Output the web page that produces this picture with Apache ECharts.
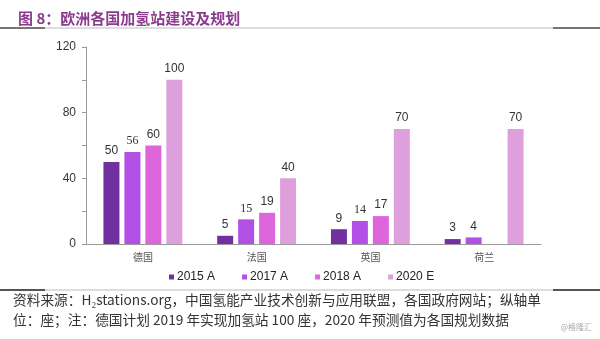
<!DOCTYPE html>
<html><head><meta charset="utf-8">
<script src="https://cdn.jsdelivr.net/npm/echarts@6/dist/echarts.min.js"></script>
<style>html,body{margin:0;padding:0;background:#fff}#c{width:600px;height:339px}</style>
</head><body><div id="c"></div>
<script>
const categories = ['德国', '法国', '英国', '荷兰'];
const seriesNames = ['2015 A', '2017 A', '2018 A', '2020 E'];
const v2015 = [50, 5, 9, 3];
const v2017 = [56, 15, 14, 4];
const v2018 = [60, 19, 17, null];
const v2020 = [100, 40, 70, 70];
const yTicks = [0, 40, 80, 120];

const colors = ['#7030A0', '#B24FE4', '#DD66DD', '#DDA0DD'];
const values = [v2015, v2017, v2018, v2020];
const serifLabel = {'1-0': 1, '1-1': 1, '1-2': 1};

const chart = echarts.init(document.getElementById('c'));
const series = values.map((arr, si) => ({
  name: seriesNames[si],
  type: 'bar',
  barWidth: 16,
  barGap: '31%',
  itemStyle: { color: colors[si] },
  label: {
    show: true, position: 'top', distance: 5,
    color: '#333', fontSize: 12, fontFamily: 'Liberation Sans, Arial'
  },
  data: arr.map((v, ci) => serifLabel[si + '-' + ci]
    ? { value: v, label: { fontFamily: 'Liberation Serif, serif', fontSize: 12 } }
    : v)
}));

chart.setOption({
  animation: false,
  textStyle: { fontFamily: 'Liberation Sans, Arial' },
  title: {
    text: '图 8：欧洲各国加氢站建设及规划',
    left: 13, top: 6,
    textStyle: { color: '#8B3A8E', fontSize: 15, fontWeight: 'bold', fontFamily: 'Noto Sans CJK SC' }
  },
  legend: {
    data: seriesNames,
    bottom: 51, left: 164,
    itemWidth: 5, itemHeight: 5, itemGap: 27,
    icon: 'rect',
    textStyle: { fontSize: 12, color: '#222', padding: [0, 0, 0, -2] }
  },
  grid: { left: 86, right: 59, top: 47, bottom: 95 },
  xAxis: {
    type: 'category', data: categories,
    axisLine: { lineStyle: { color: '#999' } },
    axisTick: { show: false },
    axisLabel: { color: '#555', fontSize: 10, margin: 8, fontFamily: 'Noto Sans CJK SC' }
  },
  yAxis: {
    type: 'value', min: yTicks[0], max: yTicks[yTicks.length - 1], interval: 40,
    axisLine: { show: true, lineStyle: { color: '#999' } },
    axisTick: { show: true, length: 4, lineStyle: { color: '#999' } },
    minorTick: { show: true, splitNumber: 2, length: 4, lineStyle: { color: '#999' } },
    splitLine: { show: false },
    axisLabel: { color: '#333', fontSize: 12, margin: 10 }
  },
  series: series,
  graphic: [
    { type: 'line', shape: { x1: 0, y1: 28, x2: 600, y2: 28 }, style: { stroke: '#bbb', lineWidth: 1 } },
    { type: 'line', shape: { x1: 0, y1: 28, x2: 45, y2: 28 }, style: { stroke: '#555', lineWidth: 1.5 } },
    { type: 'line', shape: { x1: 553, y1: 28, x2: 600, y2: 28 }, style: { stroke: '#555', lineWidth: 1.5 } },
    { type: 'line', shape: { x1: 0, y1: 290, x2: 600, y2: 290 }, style: { stroke: '#bbb', lineWidth: 1 } },
    { type: 'line', shape: { x1: 0, y1: 290, x2: 45, y2: 290 }, style: { stroke: '#555', lineWidth: 2 } },
    { type: 'line', shape: { x1: 553, y1: 290, x2: 600, y2: 290 }, style: { stroke: '#555', lineWidth: 2 } },
    { type: 'text', left: 13, top: 293, style: {
      text: '资料来源：H₂stations.org，中国氢能产业技术创新与应用联盟，各国政府网站；纵轴单',
      fill: '#333', font: '13.7px "Noto Sans CJK SC"' } },
    { type: 'text', left: 13, top: 313, style: {
      text: '位：座；注：德国计划 2019 年实现加氢站 100 座，2020 年预测值为各国规划数据',
      fill: '#333', font: '13.7px "Noto Sans CJK SC"' } },
    { type: 'text', right: 8, top: 323, style: {
      text: '@格隆汇', fill: '#aaa', font: '8px "Noto Sans CJK SC"' } }
  ]
});
</script></body></html>
